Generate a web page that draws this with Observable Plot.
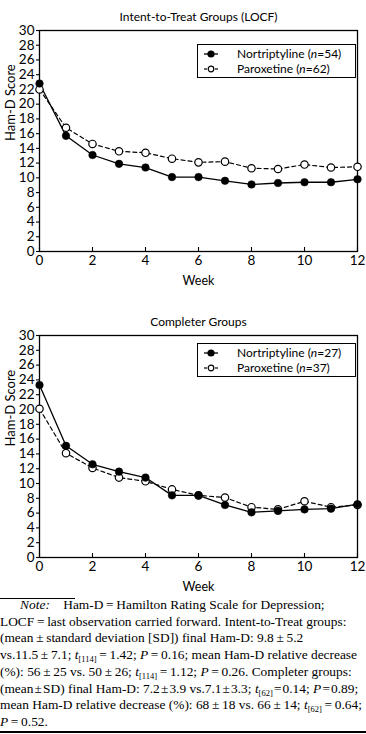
<!DOCTYPE html>
<html>
<head>
<meta charset="utf-8">
<script src="https://cdn.jsdelivr.net/npm/d3@7"></script>
<script src="https://cdn.jsdelivr.net/npm/@observablehq/plot@0.6"></script>
<style>
  html, body { margin: 0; padding: 0; background: white; }
  #wrap { position: relative; width: 366px; height: 734px; overflow: hidden; background: white; font-family: Lato, "Open Sans", sans-serif; color: black; }
  .abs { position: absolute; }
  .legend { position: absolute; left: 197px; width: 159px; height: 34px; box-sizing: border-box; border: 1px solid black; background: white; font-size: 12px; }
  .legend .row { position: absolute; left: 0; height: 14px; width: 100%; }
  .legend .row svg { position: absolute; left: 3px; top: 0; }
  .legend .row span { position: absolute; left: 39px; top: 0; line-height: 14px; white-space: nowrap; }
  #note { position: absolute; left: 0; top: 597px; width: 366px; font-family: "Liberation Serif", "DejaVu Serif", serif; font-size: 13.4px; line-height: 16.7px; white-space: nowrap; }
  #note sub { font-size: 8.5px; vertical-align: -3px; line-height: 0; }
</style>
</head>
<body>
<div id="wrap">
  <div class="abs" style="left:0;top:0;width:366px;height:2px;background:black;"></div>
  <div id="c1" class="abs" style="left:0;top:0;"></div>
  <div id="c2" class="abs" style="left:0;top:300px;"></div>
  <div id="leg1" class="legend" style="top:44px;"></div>
  <div id="leg2" class="legend" style="top:343px;"></div>
  <div class="abs" style="left:0;top:598px;width:75px;height:1px;background:black;"></div>
  <div id="note"></div>
  <div class="abs" style="left:0;top:731px;width:366px;height:2px;background:black;"></div>
</div>
<script>
// ---- Data ----
const weeks = [0, 1, 2, 3, 4, 5, 6, 7, 8, 9, 10, 11, 12];
const ittNortriptyline = [22.8, 15.7, 13.1, 11.9, 11.4, 10.1, 10.1, 9.6, 9.1, 9.3, 9.4, 9.4, 9.8];
const ittParoxetine    = [22.0, 16.8, 14.6, 13.6, 13.4, 12.6, 12.1, 12.2, 11.3, 11.2, 11.8, 11.4, 11.5];
const compNortriptyline = [23.3, 15.1, 12.6, 11.6, 10.8, 8.4, 8.4, 7.1, 6.1, 6.3, 6.5, 6.6, 7.2];
const compParoxetine    = [20.1, 14.1, 12.1, 10.8, 10.3, 9.2, 8.4, 8.1, 6.8, 6.5, 7.6, 6.8, 7.1];
const xTicks = [0, 2, 4, 6, 8, 10, 12];
const yTicks = [0, 2, 4, 6, 8, 10, 12, 14, 16, 18, 20, 22, 24, 26, 28, 30];
const titles = ["Intent-to-Treat Groups (LOCF)", "Completer Groups"];
const seriesNames = ["Nortriptyline", "Paroxetine"];
const nITT = [54, 62];
const nComp = [27, 37];
const xLabel = "Week";
const yLabel = "Ham-D Score";

function rows(values) { return weeks.map((w, i) => ({week: w, score: values[i]})); }

function chart({title, nort, paro, height, marginTop, marginBottom}) {
  const plotH = height - marginTop - marginBottom;
  const tickLen = 4 * 30 / plotH; // 4px inward tick expressed in data units
  return Plot.plot({
    width: 366,
    height,
    marginLeft: 39,
    marginRight: 9,
    marginTop,
    marginBottom,
    style: {fontFamily: "Lato, 'Open Sans', sans-serif", fontSize: "12px", color: "black", background: "white", overflow: "visible"},
    x: {domain: [0, 12]},
    y: {domain: [0, 30]},
    marks: [
      Plot.axisY({ticks: yTicks, tickSize: 3, tickPadding: 2, label: null, fontSize: 13.5, strokeWidth: 1.1}),
      Plot.axisX({ticks: xTicks, tickSize: 0, tickPadding: 4, label: null, fontSize: 13.5}),
      Plot.ruleX(xTicks, {x: d => d, y1: 0, y2: tickLen, stroke: "black", strokeWidth: 1.1}),
      Plot.frame({stroke: "black", strokeWidth: 1.3}),
      Plot.line(rows(paro), {x: "week", y: "score", stroke: "black", strokeWidth: 1.2, strokeDasharray: "4,3"}),
      Plot.line(rows(nort), {x: "week", y: "score", stroke: "black", strokeWidth: 1.3}),
      Plot.dot(rows(paro), {x: "week", y: "score", r: 3.7, fill: "white", stroke: "black", strokeWidth: 1.2}),
      Plot.dot(rows(nort), {x: "week", y: "score", r: 3.8, fill: "black", stroke: "black", strokeWidth: 0.5}),
      Plot.text([title], {frameAnchor: "top", lineAnchor: "middle", dy: -13, fontSize: 12}),
      Plot.text([xLabel], {frameAnchor: "bottom", lineAnchor: "middle", dy: 29, fontSize: 12.5}),
      Plot.text([yLabel], {frameAnchor: "left", lineAnchor: "middle", dx: -29, rotate: -90, fontSize: 13})
    ]
  });
}

document.getElementById("c1").append(chart({title: titles[0], nort: ittNortriptyline, paro: ittParoxetine, height: 300, marginTop: 30, marginBottom: 49}));
document.getElementById("c2").append(chart({title: titles[1], nort: compNortriptyline, paro: compParoxetine, height: 295, marginTop: 35, marginBottom: 38}));

function legend(el, ns) {
  const solid = `<svg width="30" height="14"><line x1="3" x2="17" y1="7" y2="7" stroke="black" stroke-width="1.3"/><circle cx="10" cy="7" r="3.6" fill="black"/></svg>`;
  const dashed = `<svg width="30" height="14"><line x1="3" x2="6" y1="7" y2="7" stroke="black" stroke-width="1.2"/><line x1="14" x2="17" y1="7" y2="7" stroke="black" stroke-width="1.2"/><circle cx="10" cy="7" r="2.8" fill="white" stroke="black" stroke-width="1.2"/></svg>`;
  el.innerHTML =
    `<div class="row" style="top:2px">${solid}<span>${seriesNames[0]} (<i>n</i>=${ns[0]})</span></div>` +
    `<div class="row" style="top:17px">${dashed}<span>${seriesNames[1]} (<i>n</i>=${ns[1]})</span></div>`;
}
legend(document.getElementById("leg1"), nITT);
legend(document.getElementById("leg2"), nComp);

const noteLines = [
  `&nbsp;&nbsp;&nbsp;&nbsp;&nbsp;&nbsp;<i>Note:</i>&nbsp;&nbsp;&nbsp;&nbsp;Ham-D\u2009=\u2009Hamilton Rating Scale for Depression;`,
  `LOCF\u2009=\u2009last observation carried forward. Intent-to-Treat groups:`,
  `(mean\u2009±\u2009standard deviation [SD]) final Ham-D: 9.8\u2009±\u20095.2`,
  `vs.11.5\u2009±\u20097.1; <i>t</i><sub>[114]</sub>\u2009=\u20091.42; <i>P</i>\u2009=\u20090.16; mean Ham-D relative decrease`,
  `(%): 56\u2009±\u200925 vs. 50\u2009±\u200926; <i>t</i><sub>[114]</sub>\u2009=\u20091.12; <i>P</i>\u2009=\u20090.26. Completer groups:`,
  `(mean\u200a±\u200aSD) final Ham-D: 7.2\u200a±\u200a3.9 vs.7.1\u200a±\u200a3.3; <i>t</i><sub>[62]</sub>\u200a=\u200a0.14; <i>P</i>\u200a=\u200a0.89;`,
  `mean Ham-D relative decrease (%): 68\u2009±\u200918 vs. 66\u2009±\u200914; <i>t</i><sub>[62]</sub>\u2009=\u20090.64;`,
  `<i>P</i>\u2009=\u20090.52.`
];
document.getElementById("note").innerHTML = noteLines.map(l => `<div>${l}</div>`).join("");
</script>
</body>
</html>
